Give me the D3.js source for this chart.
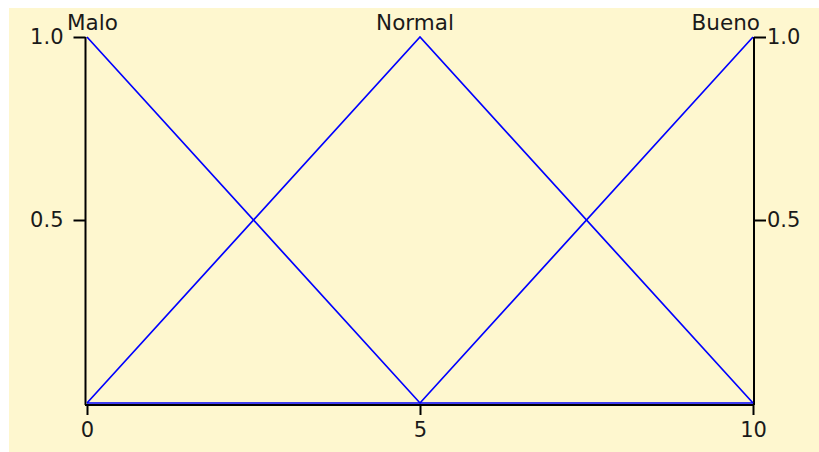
<!DOCTYPE html>
<html><head><meta charset="utf-8">
<script src="https://cdn.jsdelivr.net/npm/d3@7"></script>
<style>body{margin:0;background:#fff;}svg{display:block;}</style>
</head><body>
<svg id="c" width="819" height="452"></svg>
<script>
const xs = [0, 5, 10];
const malo = [1, 0, 0];
const normal = [0, 1, 0];
const bueno = [0, 0, 1];
const seriesNames = ["Malo", "Normal", "Bueno"];
const xTicks = [0, 5, 10];
const yTicks = [0.5, 1.0];

const svg = d3.select("#c");
const font = "DejaVu Sans, sans-serif";
svg.append("rect").attr("x", 9).attr("y", 8).attr("width", 810).attr("height", 444).attr("fill", "#fef7cf");

const x = d3.scaleLinear().domain([0, 10]).range([87, 753]);
const y = d3.scaleLinear().domain([0, 1]).range([403, 37]);

// left axis
const gl = svg.append("g").attr("transform", "translate(85.5,0)")
  .call(d3.axisLeft(y).tickValues(yTicks).tickFormat(d3.format(".1f")).tickSize(12).tickSizeOuter(0).tickPadding(10));
gl.select(".domain").attr("d", `M0,${y(1)}V${y(0)+2}`);
// right axis
const gr = svg.append("g").attr("transform", "translate(754,0)")
  .call(d3.axisRight(y).tickValues(yTicks).tickFormat(d3.format(".1f")).tickSize(12).tickSizeOuter(0).tickPadding(1));
gr.select(".domain").attr("d", `M0,${y(1)}V${y(0)+2}`);
// bottom axis
const gb = svg.append("g").attr("transform", "translate(0,405)")
  .call(d3.axisBottom(x).tickValues(xTicks).tickFormat(d3.format("d")).tickSize(10).tickSizeOuter(0).tickPadding(7));
gb.select(".domain").attr("d", `M${x(0)-2},0H${x(10)+1}`);

[gl, gr, gb].forEach(g => {
  g.selectAll("path, line").attr("stroke", "#000").attr("stroke-width", 2);
  g.selectAll("text").attr("font-family", font).attr("font-size", 21).attr("fill", "#1a1a1a");
});

// membership functions
const series = [malo, normal, bueno];
const line = d3.line().x((d, i) => x(xs[i])).y(d => y(d));
svg.append("g").selectAll("path").data(series).join("path")
  .attr("d", d => line(d)).attr("fill", "none").attr("stroke", "#0000ff").attr("stroke-width", 1.7);

// labels at peaks
const labelAnchor = ["start", "middle", "end"];
const labelDx = [-20, -5, 7];
svg.append("g").selectAll("text").data(seriesNames).join("text")
  .attr("x", (d, i) => x(xs[series[i].indexOf(1)]) + labelDx[i])
  .attr("y", 30)
  .attr("text-anchor", (d, i) => labelAnchor[i])
  .attr("font-family", font).attr("font-size", 21.5).attr("fill", "#1a1a1a")
  .text(d => d);
</script>
</body></html>
